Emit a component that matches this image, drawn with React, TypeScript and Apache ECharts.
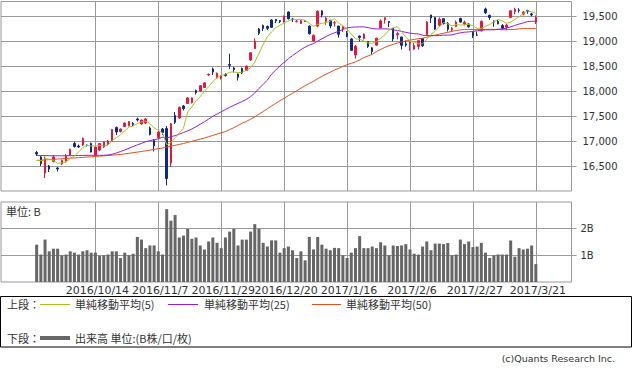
import React, { useEffect, useRef } from 'react';
import * as echarts from 'echarts';

const dates = [
  '2016/9/23','2016/9/26','2016/9/27','2016/9/28','2016/9/29','2016/9/30',
  '2016/10/3','2016/10/4','2016/10/5','2016/10/6','2016/10/7','2016/10/11','2016/10/12','2016/10/13','2016/10/14',
  '2016/10/17','2016/10/18','2016/10/19','2016/10/20','2016/10/21','2016/10/24','2016/10/25','2016/10/26','2016/10/27','2016/10/28','2016/10/31',
  '2016/11/1','2016/11/2','2016/11/4','2016/11/7','2016/11/8','2016/11/9','2016/11/10','2016/11/11','2016/11/14','2016/11/15','2016/11/16','2016/11/17','2016/11/18','2016/11/21','2016/11/22','2016/11/24','2016/11/25','2016/11/28','2016/11/29','2016/11/30',
  '2016/12/1','2016/12/2','2016/12/5','2016/12/6','2016/12/7','2016/12/8','2016/12/9','2016/12/12','2016/12/13','2016/12/14','2016/12/15','2016/12/16','2016/12/19','2016/12/20','2016/12/21','2016/12/22','2016/12/26','2016/12/27','2016/12/28','2016/12/29','2016/12/30',
  '2017/1/4','2017/1/5','2017/1/6','2017/1/10','2017/1/11','2017/1/12','2017/1/13','2017/1/16','2017/1/17','2017/1/18','2017/1/19','2017/1/20','2017/1/23','2017/1/24','2017/1/25','2017/1/26','2017/1/27','2017/1/30','2017/1/31',
  '2017/2/1','2017/2/2','2017/2/3','2017/2/6','2017/2/7','2017/2/8','2017/2/9','2017/2/10','2017/2/13','2017/2/14','2017/2/15','2017/2/16','2017/2/17','2017/2/20','2017/2/21','2017/2/22','2017/2/23','2017/2/24','2017/2/27','2017/2/28',
  '2017/3/1','2017/3/2','2017/3/3','2017/3/6','2017/3/7','2017/3/8','2017/3/9','2017/3/10','2017/3/13','2017/3/14','2017/3/15','2017/3/16','2017/3/17','2017/3/21',
];

const opens = [
  16770,16680,16360,16500,16590,16460,16540,16600,16720,16950,
  16900,16920,16920,16950,16720,16820,16880,16930,16990,17270,
  17190,17290,17310,17350,17440,17340,17360,17260,17010,17070,
  17240,17250,16560,17510,17460,17700,17750,17770,18010,18000,
  18070,18320,18440,18260,18260,18330,18530,18460,18340,18450,
  18410,18620,18850,19240,19310,19290,19420,19430,19410,19380,
  19580,19440,19390,19350,19390,19300,19000,19298,19602,19393,
  19414,19358,19300,19238,19148,19041,18720,19100,19050,18990,
  18865,18916,19262,19425,19391,19251,19123,19081,18943,18955,
  18837,18893,19050,19130,19521,19470,19315,19445,19350,19224,
  19287,19450,19338,19342,19173,19121,19204,19640,19513,19400,
  19390,19309,19277,19470,19590,19621,19538,19610,19542,19380,
];
const highs = [
  16800,16700,16690,16520,16720,16480,16630,16740,16850,16990,
  16930,17070,16930,16970,16890,16960,16990,17020,17240,17290,
  17250,17370,17400,17380,17470,17430,17460,17290,17040,17190,
  17260,17300,17359,17580,17690,17720,17880,17870,18030,18120,
  18180,18350,18470,18370,18320,18360,18746,18480,18350,18470,
  18510,18780,19050,19260,19330,19310,19439,19440,19420,19510,
  19592,19460,19420,19420,19420,19310,19130,19615,19615,19487,
  19414,19402,19300,19290,19201,19058,18918,19108,19152,19000,
  18877,19061,19434,19467,19393,19261,19185,19081,19009,18987,
  18965,19018,19052,19396,19521,19482,19472,19458,19379,19280,
  19410,19467,19406,19352,19197,19188,19412,19668,19527,19410,
  19423,19338,19349,19613,19666,19656,19600,19625,19565,19513,
];
const lows = [
  16700,16500,16260,16380,16570,16390,16520,16590,16700,16870,
  16860,16900,16890,16770,16700,16800,16860,16910,16980,17120,
  17170,17280,17290,17300,17390,17330,17340,17110,16790,17050,
  17120,16111,16480,17340,17440,17610,17740,17750,17930,17990,
  18060,18300,18320,18250,18230,18290,18440,18370,18210,18340,
  18400,18600,18840,19120,19200,19220,19260,19360,19360,19370,
  19430,19380,19370,19340,19380,19130,18980,19277,19473,19324,
  19255,19288,19069,19183,19074,18799,18650,18990,19029,18862,
  18730,18900,19250,19347,19280,18996,19033,18830,18885,18805,
  18830,18830,18880,19103,19360,19223,19281,19330,19190,19198,
  19286,19364,19310,19269,19061,19102,19187,19540,19424,19285,
  19332,19226,19215,19460,19535,19569,19511,19545,19492,19340,
];
const closes = [
  16740,16544,16650,16440,16680,16440,16610,16700,16830,16890,
  16880,17050,16910,16780,16880,16950,16980,17000,17230,17180,
  17240,17360,17390,17330,17420,17420,17440,17130,16900,17180,
  17171,16251,17344,17374,17672,17650,17862,17862,17967,18106,
  18162,18333,18381,18356,18307,18308,18513,18426,18274,18360,
  18496,18765,18996,19155,19250,19253,19273,19401,19391,19494,
  19444,19427,19396,19403,19401,19145,19114,19594,19520,19454,
  19301,19364,19134,19287,19095,18813,18894,19072,19137,18891,
  18787,19057,19402,19467,19368,19041,19148,18914,18918,18976,
  18910,19007,18907,19378,19459,19238,19437,19347,19234,19251,
  19381,19379,19371,19283,19107,19118,19393,19564,19469,19379,
  19344,19254,19318,19604,19633,19609,19577,19590,19521,19470,
];
// volume in billions of shares
const volumes = [
  1.40,1.03,1.59,1.15,1.25,1.25,1.00,1.03,1.15,1.10,
  1.03,1.15,1.19,1.10,1.10,0.98,1.00,1.03,1.15,1.15,
  0.90,1.10,1.00,1.06,1.69,1.59,1.27,1.37,1.37,1.15,
  1.03,2.73,2.30,2.51,1.67,1.74,1.99,1.62,1.67,1.37,
  1.22,1.52,1.67,1.47,1.27,1.67,1.89,1.99,1.37,1.59,
  1.59,1.89,2.17,1.99,1.47,1.33,1.56,1.56,1.10,1.27,
  1.33,1.19,0.90,1.15,0.81,1.69,1.22,1.69,1.40,1.25,
  1.19,1.28,1.27,1.00,0.90,1.10,1.27,1.72,1.27,1.27,
  1.33,1.27,1.49,1.37,1.00,1.37,1.35,1.37,1.42,1.22,
  1.06,1.03,1.33,1.52,1.19,1.44,1.44,1.42,1.46,1.00,
  1.03,1.59,1.42,1.52,1.31,1.33,1.47,1.10,0.90,1.00,
  1.03,1.03,1.03,1.56,0.95,1.27,1.22,1.25,1.37,0.67,
];
const ma5 = [
  16620,16600,16647,16636,16611,16551,16564,16574,16652,16694,
  16782,16870,16912,16902,16900,16914,16900,16918,17008,17068,
  17126,17202,17280,17300,17348,17384,17400,17348,17262,17214,
  17164,16926,16969,17064,17162,17258,17580,17684,17803,17889,
  17992,18086,18190,18268,18308,18337,18373,18382,18366,18376,
  18414,18464,18578,18754,18932,19084,19185,19266,19314,19362,
  19401,19431,19430,19433,19414,19354,19292,19331,19355,19365,
  19397,19447,19355,19308,19236,19139,19045,19032,19002,18961,
  18956,18989,19055,19121,19216,19267,19285,19188,19078,18999,
  18973,18945,18944,19036,19132,19198,19284,19372,19343,19301,
  19330,19318,19323,19333,19304,19252,19254,19293,19330,19385,
  19430,19402,19353,19380,19431,19484,19548,19603,19586,19553,
];
const ma25 = [
  16712,16710,16708,16706,16705,16704,16704,16705,16706,16708,
  16710,16712,16713,16714,16714,16714,16715,16720,16735,16760,
  16790,16820,16855,16890,16924,16951,16987,17006,17025,17045,
  17074,17060,17085,17107,17138,17169,17202,17240,17287,17336,
  17385,17439,17494,17539,17584,17627,17673,17715,17752,17790,
  17833,17886,17961,18051,18134,18217,18338,18420,18501,18574,
  18645,18708,18769,18827,18879,18918,18949,18998,19044,19090,
  19130,19164,19192,19233,19262,19275,19280,19283,19282,19268,
  19249,19241,19241,19244,19239,19223,19211,19192,19173,19156,
  19146,19142,19115,19109,19109,19107,19109,19118,19116,19122,
  19145,19164,19176,19182,19191,19204,19217,19224,19224,19224,
  19236,19241,19257,19284,19311,19339,19361,19389,19394,19395,
];
const ma50 = [
  16610,16616,16621,16627,16633,16639,16644,16650,16656,16661,
  16667,16673,16679,16684,16690,16697,16703,16710,16717,16723,
  16730,16742,16754,16766,16778,16790,16804,16818,16832,16846,
  16860,16878,16896,16914,16932,16950,16972,16994,17016,17038,
  17060,17086,17112,17138,17164,17190,17228,17266,17310,17357,
  17392,17437,17484,17538,17589,17645,17699,17753,17804,17856,
  17907,17955,18005,18057,18107,18151,18194,18246,18292,18337,
  18378,18419,18453,18493,18526,18554,18583,18622,18667,18701,
  18733,18789,18830,18872,18906,18934,18960,18981,19000,19017,
  19032,19046,19056,19077,19100,19118,19137,19155,19174,19192,
  19210,19222,19230,19232,19229,19227,19229,19232,19234,19232,
  19230,19226,19225,19229,19233,19242,19252,19252,19252,19252,
];

const priceTicks = [16500, 17000, 17500, 18000, 18500, 19000, 19500];
const volumeTicks = [1, 2];
const labeledDates = ['2016/10/14', '2016/11/7', '2016/11/29', '2016/12/20', '2017/1/16', '2017/2/6', '2017/2/27', '2017/3/21'];

const PAD_L = 8;
const PAD_R = 8;
const UP = '#f0143c';
const DOWN = '#0a2a8c';
const C_MA5 = '#a8c41e';
const C_MA25 = '#9a1ed6';
const C_MA50 = '#e4501e';
const GRIDC = '#999999';
const TXT = '#333333';
const JP = '"Noto Sans CJK JP", sans-serif';

function pad<T>(arr: T[]): (T | string)[] {
  return [...Array(PAD_L).fill('-'), ...arr, ...Array(PAD_R).fill('-')];
}

const categories = [
  ...Array.from({ length: PAD_L }, (_, i) => `padL${i}`),
  ...dates,
  ...Array.from({ length: PAD_R }, (_, i) => `padR${i}`),
];
const labeledSet = new Set(labeledDates);
const fmtNum = (v: number) => String(v).replace(/\B(?=(\d{3})+(?!\d))/g, ',');

function buildOption() {
  const candles = pad(dates.map((_, i) => [opens[i], closes[i], lows[i], highs[i]]));
  const vLines = {
    silent: true,
    symbol: ['none', 'none'],
    z: 1,
    label: { show: false },
    lineStyle: { color: GRIDC, type: 'solid', width: 1 },
    emphasis: { disabled: true },
    data: labeledDates.map((d) => ({ xAxis: d })),
  };
  const lineSeries = (name: string, data: number[], color: string) => ({
    name,
    type: 'line',
    xAxisIndex: 0,
    yAxisIndex: 0,
    data: pad(data),
    showSymbol: false,
    symbol: 'none',
    lineStyle: { color, width: 1 },
    itemStyle: { color },
    z: 3,
    silent: true,
  });
  const gw = 570.5;
  const legendFont = `11px ${JP}`;
  return {
    animation: false,
    backgroundColor: '#ffffff',
    grid: [
      { left: 1, top: 1.5, width: gw, height: 189.5, show: true, borderColor: GRIDC, borderWidth: 1, backgroundColor: 'transparent' },
      { left: 1, top: 202, width: gw, height: 80, show: true, borderColor: GRIDC, borderWidth: 1, backgroundColor: 'transparent' },
    ],
    xAxis: [
      {
        type: 'category', gridIndex: 0, data: categories, boundaryGap: true,
        axisLine: { show: false }, axisTick: { show: false }, axisLabel: { show: false }, splitLine: { show: false },
      },
      {
        type: 'category', gridIndex: 1, data: categories, boundaryGap: true,
        axisLine: { show: false }, axisTick: { show: false }, splitLine: { show: false },
        axisLabel: {
          show: true, interval: 0, margin: 3,
          formatter: (v: string) => (labeledSet.has(v) ? v : ''),
          color: TXT, fontFamily: 'DejaVu Sans', fontSize: 11, padding: [0, 0, 0, 4],
        },
      },
    ],
    yAxis: [
      {
        type: 'value', gridIndex: 0, position: 'right', min: 16000, max: 19790, interval: 500,
        axisLine: { show: false },
        axisTick: { show: true, length: 5, lineStyle: { color: GRIDC }, customValues: priceTicks },
        axisLabel: { customValues: priceTicks, formatter: (v: number) => fmtNum(v), margin: 11, color: TXT, fontFamily: 'DejaVu Sans', fontSize: 10 },
        splitLine: { show: true, lineStyle: { color: GRIDC, width: 1 } },
      },
      {
        type: 'value', gridIndex: 1, position: 'right', min: 0, max: 3, interval: 1,
        axisLine: { show: false },
        axisTick: { show: true, length: 5, lineStyle: { color: GRIDC }, customValues: volumeTicks },
        axisLabel: { customValues: volumeTicks, formatter: (v: number) => `${v}B`, margin: 9, color: TXT, fontFamily: 'DejaVu Sans', fontSize: 10 },
        splitLine: { show: true, lineStyle: { color: GRIDC, width: 1 } },
      },
    ],
    series: [
      {
        name: 'price', type: 'candlestick', xAxisIndex: 0, yAxisIndex: 0,
        data: candles, barWidth: 2, z: 2, silent: true,
        itemStyle: { color: UP, color0: DOWN, borderColor: UP, borderColor0: DOWN, borderWidth: 1 },
        markLine: vLines,
      },
      lineSeries('ma50', ma50, C_MA50),
      lineSeries('ma25', ma25, C_MA25),
      lineSeries('ma5', ma5, C_MA5),
      {
        name: 'volume', type: 'bar', xAxisIndex: 1, yAxisIndex: 1,
        data: pad(volumes), barWidth: 3, z: 2, silent: true,
        itemStyle: { color: '#666666' },
        markLine: vLines,
      },
    ],
    graphic: [
      { type: 'text', left: 6, top: 205, style: { text: '単位: B', font: `11px ${JP}`, fill: TXT } },
      { type: 'rect', shape: { x: 0.5, y: 296.5, width: 631, height: 50.5 }, style: { fill: 'none', stroke: '#000', lineWidth: 1 } },
      { type: 'text', x: 7, y: 304, style: { text: '上段：', font: legendFont, fill: TXT, verticalAlign: 'middle' } },
      { type: 'line', shape: { x1: 40, y1: 304.5, x2: 70, y2: 304.5 }, style: { stroke: C_MA5, lineWidth: 1 } },
      { type: 'text', x: 75, y: 304, style: { text: '単純移動平均(5)', font: legendFont, fill: TXT, verticalAlign: 'middle' } },
      { type: 'line', shape: { x1: 168, y1: 304.5, x2: 198, y2: 304.5 }, style: { stroke: C_MA25, lineWidth: 1 } },
      { type: 'text', x: 204, y: 304, style: { text: '単純移動平均(25)', font: legendFont, fill: TXT, verticalAlign: 'middle' } },
      { type: 'line', shape: { x1: 312, y1: 304.5, x2: 341, y2: 304.5 }, style: { stroke: C_MA50, lineWidth: 1 } },
      { type: 'text', x: 346, y: 304, style: { text: '単純移動平均(50)', font: legendFont, fill: TXT, verticalAlign: 'middle' } },
      { type: 'text', x: 7, y: 338, style: { text: '下段：', font: legendFont, fill: TXT, verticalAlign: 'middle' } },
      { type: 'line', shape: { x1: 40, y1: 338, x2: 70, y2: 338 }, style: { stroke: '#666666', lineWidth: 4 } },
      { type: 'text', x: 75, y: 338, style: { text: '出来高 単位:(B株/口/枚)', font: legendFont, fill: TXT, verticalAlign: 'middle' } },
      { type: 'text', x: 615, y: 358, style: { text: '(c)Quants Research Inc.', font: '9.5px "DejaVu Sans", sans-serif', fill: TXT, align: 'right', verticalAlign: 'middle' } },
    ],
  };
}

export default function App() {
  const ref = useRef<HTMLDivElement>(null);
  useEffect(() => {
    if (!ref.current) return;
    const chart = echarts.init(ref.current, null, { renderer: 'svg' });
    chart.setOption(buildOption() as any);
    return () => chart.dispose();
  }, []);
  return (
    <div
      ref={ref}
      style={{ position: 'fixed', left: 0, top: 0, width: 633, height: 370, background: '#ffffff' }}
    />
  );
}
